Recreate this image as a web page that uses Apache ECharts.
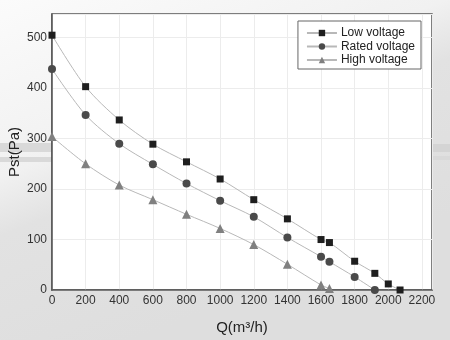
<!DOCTYPE html>
<html><head><meta charset="utf-8">
<script src="https://cdn.jsdelivr.net/npm/echarts@6/dist/echarts.min.js"></script>
<style>html,body{margin:0;padding:0;}#c{width:450px;height:340px;}</style>
</head><body><div id="c"></div>
<script>
const lowQ = [0, 200, 400, 600, 800, 1000, 1200, 1400, 1600, 1650, 1800, 1920, 2000, 2070];
const lowP = [505, 403, 337, 289, 254, 220, 179, 141, 100, 94, 57, 33, 12, 0];
const ratedQ = [0, 200, 400, 600, 800, 1000, 1200, 1400, 1600, 1650, 1800, 1920];
const ratedP = [438, 347, 290, 249, 211, 177, 145, 104, 66, 56, 26, 0];
const highQ = [0, 200, 400, 600, 800, 1000, 1200, 1400, 1600, 1650];
const highP = [304, 250, 208, 179, 150, 122, 90, 51, 10, 3];
const seriesNames = ['Low voltage', 'Rated voltage', 'High voltage'];
const xTitle = 'Q(m\u00B3/h)';
const yTitle = 'Pst(Pa)';

const zip = (a, b) => a.map((v, i) => [v, b[i]]);
const font = 'Liberation Sans, Arial, sans-serif';
const chart = echarts.init(document.getElementById('c'));
function mk(name, q, p, sym, size, color) {
  return {
    name, type: 'line', smooth: 0.3, data: zip(q, p), symbol: sym, symbolSize: size,
    showAllSymbol: true,
    lineStyle: { color: '#b8b8b8', width: 1 },
    itemStyle: { color: color }
  };
}
chart.setOption({
  backgroundColor: {
    type: 'linear', x: 0, y: 0, x2: 0.3, y2: 1,
    colorStops: [{ offset: 0, color: '#fbfbfb' }, { offset: 0.45, color: '#f1f1f1' }, { offset: 0.6, color: '#e2e2e2' }, { offset: 1, color: '#dedede' }]
  },
  animation: false,
  graphic: [
    { type: 'rect', shape: { x: 0, y: 143, width: 52, height: 9 }, style: { fill: '#d9d9d9' }, z: -1 },
    { type: 'rect', shape: { x: 0, y: 157, width: 52, height: 5 }, style: { fill: '#d9d9d9' }, z: -1 },
    { type: 'rect', shape: { x: 432, y: 144, width: 18, height: 8 }, style: { fill: '#d4d4d4' }, z: -1 },
    { type: 'rect', shape: { x: 432, y: 156, width: 18, height: 4 }, style: { fill: '#d9d9d9' }, z: -1 }
  ],
  grid: { left: 52, right: 18, top: 14, bottom: 50, outerBoundsMode: 'none', containLabel: false,
    show: true, backgroundColor: '#ffffff', borderColor: '#555', borderWidth: 1.5 },
  legend: {
    data: seriesNames, orient: 'vertical', right: 29, top: 21,
    backgroundColor: '#fff', borderColor: '#666', borderWidth: 1, padding: [6, 6, 3, 8],
    itemGap: 1.5, itemWidth: 30, itemHeight: 8,
    textStyle: { fontFamily: font, fontSize: 12, color: '#222', padding: [0, 0, 0, -1] }
  },
  xAxis: {
    type: 'value', min: 0, max: 2260, interval: 200,
    name: xTitle, nameLocation: 'middle', nameGap: 30, nameMoveOverlap: false,
    nameTextStyle: { fontFamily: font, fontSize: 15, color: '#222' },
    axisLine: { lineStyle: { color: '#555', width: 1.5 } },
    axisTick: { show: false },
    axisLabel: { fontFamily: font, fontSize: 12, color: '#333', showMaxLabel: false, margin: 5, formatter: v => String(v) },
    splitLine: { show: true, lineStyle: { color: '#ececec', width: 1 } }
  },
  yAxis: {
    type: 'value', min: 0, max: 547, interval: 100,
    name: yTitle, nameLocation: 'middle', nameGap: 30, nameMoveOverlap: false,
    nameTextStyle: { fontFamily: font, fontSize: 15, color: '#222' },
    axisLine: { lineStyle: { color: '#555', width: 1.5 } },
    axisTick: { show: false },
    axisLabel: { fontFamily: font, fontSize: 12, color: '#333', showMaxLabel: false, margin: 5, formatter: v => String(v) },
    splitLine: { show: true, lineStyle: { color: '#ececec', width: 1 } }
  },
  series: [
    mk(seriesNames[0], lowQ, lowP, 'rect', 7, '#1e1e1e'),
    mk(seriesNames[1], ratedQ, ratedP, 'circle', 8, '#4a4a4a'),
    mk(seriesNames[2], highQ, highP, 'triangle', 9, '#808080')
  ]
});
</script></body></html>
